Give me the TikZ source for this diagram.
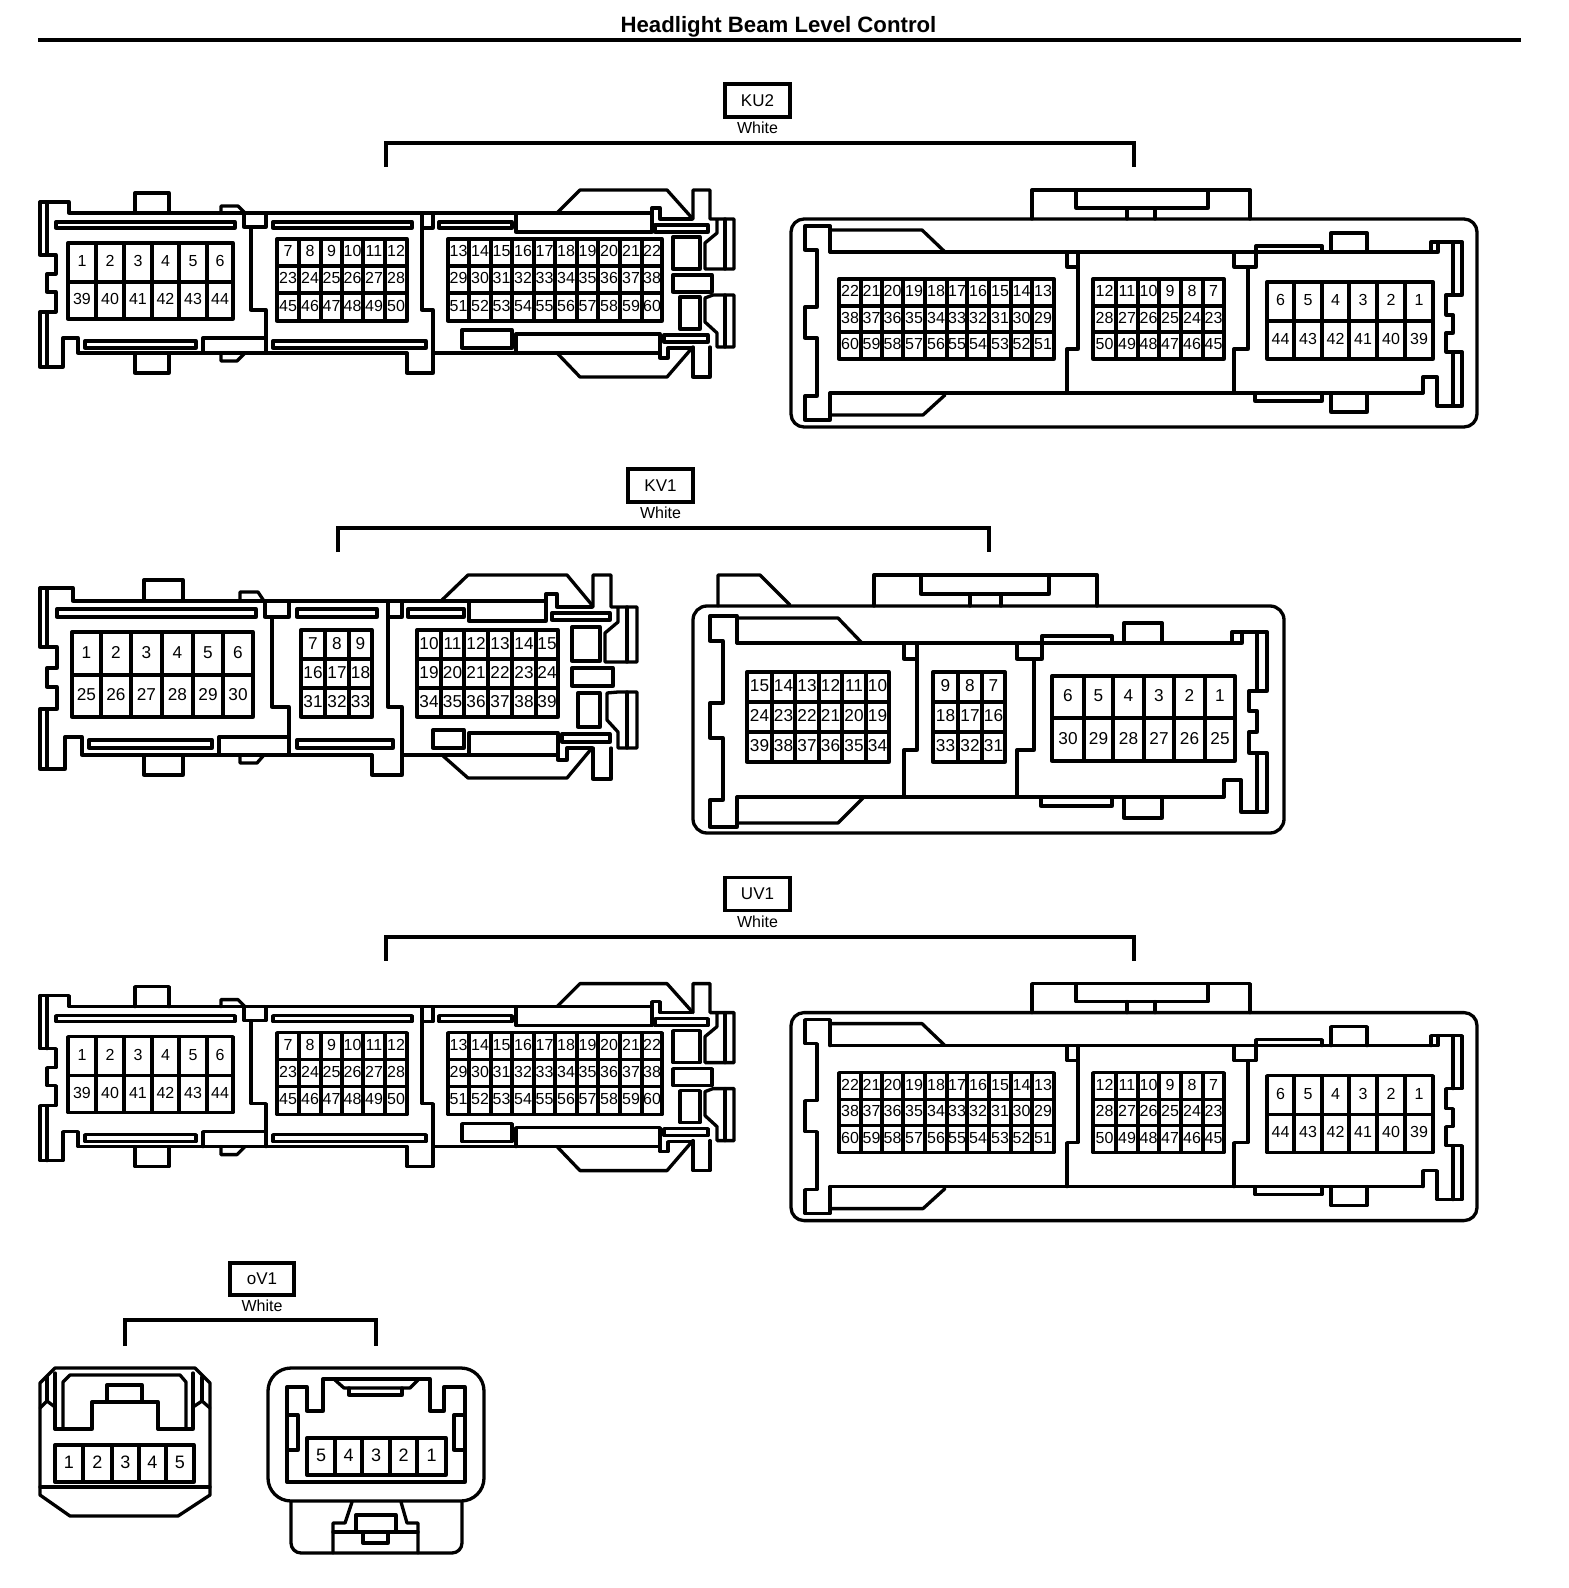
\documentclass[tikz,border=0pt]{standalone}
\usepackage{fontspec}
\setmainfont{Liberation Sans}
\tikzset{
  ln/.style={draw=black,line width=1.65pt,line join=round,line cap=round},
  rule/.style={draw=black,line width=2pt},
  brk/.style={draw=black,line width=2pt,line join=miter},
  tag/.style={draw=black,line width=1.7pt,fill=white,font=\fontsize{8.5}{10}\selectfont,inner sep=0pt},
  colour/.style={font=\fontsize{8}{10}\selectfont,inner sep=0pt},
  pinlabel/.style={inner sep=0pt,yshift=0.6pt,font=\fontsize{\pinsize}{\pinsize}\selectfont},
}
\def\pinsize{8}
% #1 prefix, #2 column edges, #3 row edges, #4 rows of labels
\newcommand{\pingrid}[4]{%
  \foreach \rowlabels [count=\ridx from 0] in {#4} {
    \foreach \lab [count=\cidx from 0] in \rowlabels {
      \pgfmathsetmacro\xa{{#2}[\cidx]}
      \pgfmathsetmacro\xb{{#2}[\cidx+1]}
      \pgfmathsetmacro\ya{{#3}[\ridx]}
      \pgfmathsetmacro\yb{{#3}[\ridx+1]}
      \path[ln] (\xa,\ya) rectangle (\xb,\yb);
      \node[pinlabel] (#1-\lab) at ({(\xa+\xb)/2},{(\ya+\yb)/2}) {\lab};
    }
  }
}
% ---- 60-pin connector, harness side
\newcommand{\ConnAL}[1]{%
  \path[ln] (40,202) -- (69,202) -- (69,213) -- (516,213);
  \path[ln] (40,202) -- (40,255) -- (56,255) -- (56,274) -- (47,274) -- (47,292) -- (56,292) -- (56,312) -- (40,312) -- (40,367) -- (63,367) -- (63,338) -- (78,338) -- (78,353) -- (407,353);
  \path[ln] (47,202) -- (47,255) (47,312) -- (47,367);
  \path[ln] (135,213) -- (135,193) -- (169,193) -- (169,213);
  \path[ln] (135,353) -- (135,373) -- (169,373) -- (169,353);
  \path[ln] (56,222) rectangle (235,228);
  \path[ln] (85,341) rectangle (196,348);
  \path[ln] (221,213) -- (221,206) -- (238,206) -- (245,213);
  \path[ln] (221,353) -- (221,361) -- (237,361) -- (245,353);
  \path[ln] (244,213) rectangle (266,227);
  \path[ln] (251,227) -- (251,310) -- (266,310) -- (266,353);
  \path[ln] (203,353) -- (203,338) -- (266,338);
  \path[ln] (273,222) rectangle (412,228);
  \path[ln] (273,341) rectangle (426,348);
  \path[ln] (422,213) rectangle (433,228);
  \path[ln] (422,228) -- (422,310) -- (433,310) -- (433,373) -- (407,373) -- (407,353);
  \path[ln] (439,222) rectangle (512,228);
  \path[ln] (516,213) -- (516,232) -- (652,232) -- (652,213) -- (516,213);
  \path[ln] (652,213) -- (652,208) -- (660,208) -- (660,219) -- (692,219);
  \path[ln] (557,213) -- (580,190) -- (667,190) -- (692,218);
  \path[ln] (693,219) -- (693,190) -- (710,190) -- (710,219) -- (734,219) -- (734,269) -- (705,269) -- (705,243) -- (717,233) -- (717,219);
  \path[ln] (725,219) -- (725,269);
  \path[ln] (673,275) rectangle (712,292);
  \path[ln] (713,295) -- (734,295) -- (734,347) -- (717,347) -- (717,333) -- (705,322) -- (705,298) -- (713,295);
  \path[ln] (725,295) -- (725,347);
  \path[ln] (710,347) -- (710,377) -- (693,377) -- (693,347);
  \path[ln] (692,348) -- (667,377) -- (580,377) -- (557,353);
  \path[ln] (433,353) -- (660,353);
  \path[ln] (462,330) rectangle (512,348);
  \path[ln] (516,353) -- (516,334) -- (660,334) -- (660,358) -- (668,358) -- (668,348) -- (692,348);
  \path[ln] (655,225) rectangle (708,232);
  \path[ln] (664,335) rectangle (708,342);
  \path[ln] (673,237) rectangle (700,269);
  \path[ln] (680,297) rectangle (700,329);
  \pingrid{#1-a}{68,96,124,152,179,207,233}{243,282,319}{{1,2,3,4,5,6},{39,40,41,42,43,44}}
  \pingrid{#1-b}{277,299,321,342,363,385,407}{239,266,293,321}{{7,8,9,10,11,12},{23,24,25,26,27,28},{45,46,47,48,49,50}}
  \pingrid{#1-c}{448,469,491,512,534,555,577,598,620,642,662}{239,266,293,321}{{13,14,15,16,17,18,19,20,21,22},{29,30,31,32,33,34,35,36,37,38},{51,52,53,54,55,56,57,58,59,60}}
}
% ---- 60-pin connector, component side
\newcommand{\ConnAR}[1]{%
  \path[ln] (791,232) arc[start angle=180,end angle=270,radius=13] -- (1464,219) arc[start angle=270,end angle=360,radius=13] -- (1477,414) arc[start angle=0,end angle=90,radius=13] -- (804,427) arc[start angle=90,end angle=180,radius=13] -- cycle;
  \path[ln] (1032,219) -- (1032,190) -- (1250,190) -- (1250,219);
  \path[ln] (1076,190) -- (1076,208) -- (1208,208) -- (1208,190);
  \path[ln] (1127,208) -- (1127,219) (1155,208) -- (1155,219);
  \path[ln] (830,252) -- (830,226) -- (805,226) -- (805,250) -- (817,250) -- (817,307) -- (805,307) -- (805,338) -- (817,338) -- (817,396) -- (805,396) -- (805,420) -- (830,420) -- (830,393);
  \path[ln] (830,230) -- (922,230) -- (945,252);
  \path[ln] (830,415) -- (923,415) -- (945,395);
  \path[ln] (830,252) -- (1431,252);
  \path[ln] (830,393) -- (1423,393);
  \path[ln] (1067,252) -- (1067,267) -- (1078,267) -- (1078,252);
  \path[ln] (1078,267) -- (1078,349) -- (1067,349) -- (1067,393);
  \path[ln] (1234,252) -- (1234,267) -- (1256,267) -- (1256,252);
  \path[ln] (1248,267) -- (1248,349) -- (1234,349) -- (1234,393);
  \path[ln] (1256,252) -- (1256,246) -- (1322,246) -- (1322,252);
  \path[ln] (1331,252) -- (1331,233) -- (1367,233) -- (1367,252);
  \path[ln] (1431,252) -- (1431,242) -- (1462,242) -- (1462,295) -- (1446,295) -- (1446,315) -- (1453,315) -- (1453,333) -- (1446,333) -- (1446,352) -- (1462,352) -- (1462,406) -- (1437,406) -- (1437,377) -- (1423,377) -- (1423,393);
  \path[ln] (1438,242) -- (1438,252) -- (1431,252);
  \path[ln] (1453,242) -- (1453,295) (1453,352) -- (1453,406);
  \path[ln] (1255,393) -- (1255,401) -- (1322,401) -- (1322,393);
  \path[ln] (1331,393) -- (1331,412) -- (1367,412) -- (1367,393);
  \pingrid{#1-d}{839,861,882,903,925,947,967,989,1011,1032,1054}{279,306,332,359}{{22,21,20,19,18,17,16,15,14,13},{38,37,36,35,34,33,32,31,30,29},{60,59,58,57,56,55,54,53,52,51}}
  \pingrid{#1-e}{1093,1116,1138,1159,1181,1203,1224}{279,306,332,359}{{12,11,10,9,8,7},{28,27,26,25,24,23},{50,49,48,47,46,45}}
  \pingrid{#1-f}{1267,1294,1322,1349,1377,1405,1433}{282,321,359}{{6,5,4,3,2,1},{44,43,42,41,40,39}}
}
\begin{document}
\begin{tikzpicture}[x=0.5pt,y=-0.5pt]
\useasboundingbox (0,0) rectangle (1568,1588);
\fill[white] (0,0) rectangle (1568,1588);
% title
\node[inner sep=0pt,font=\fontsize{11.1}{13}\selectfont\bfseries] (title) at (778.5,27) {Headlight Beam Level Control};
\coordinate (ruleL) at (38,40); \coordinate (ruleR) at (1521,40);
\path[rule] (ruleL) -- (ruleR);
% KU2
\node[tag,minimum width=32.5pt,minimum height=16.5pt] (ku2) at (757.5,100.5) {KU2};
\node[colour] (ku2c) at (757.5,128) {White};
\coordinate (ku2L) at (386,167); \coordinate (ku2R) at (1134,167);
\path[brk] (ku2L) |- (1134,143) -- (ku2R);
\def\pinsize{8}
\ConnAL{ku}
\ConnAR{ku}
% KV1
\node[tag,minimum width=32.5pt,minimum height=16.5pt] (kv1) at (660.5,485.5) {KV1};
\node[colour] (kv1c) at (660.5,513) {White};
\coordinate (kv1L) at (338,552); \coordinate (kv1R) at (989,552);
\path[brk] (kv1L) |- (989,528) -- (kv1R);
\def\pinsize{8.6}
% left
\path[ln] (40,588) -- (73,588) -- (73,601) -- (469,601);
\path[ln] (40,588) -- (40,647) -- (57,647) -- (57,668) -- (47,668) -- (47,687) -- (57,687) -- (57,709) -- (40,709) -- (40,769) -- (65,769) -- (65,737) -- (82,737) -- (82,755) -- (372,755);
\path[ln] (47,588) -- (47,647) (47,709) -- (47,769);
\path[ln] (144,601) -- (144,580) -- (183,580) -- (183,601);
\path[ln] (144,755) -- (144,775) -- (183,775) -- (183,755);
\path[ln] (240,601) -- (240,592) -- (258,592) -- (264,601);
\path[ln] (240,755) -- (240,763) -- (257,763) -- (264,755);
\path[ln] (57,609) rectangle (256,617);
\path[ln] (89,740) rectangle (212,748);
\path[ln] (265,601) rectangle (289,617);
\path[ln] (272,617) -- (272,707) -- (289,707) -- (289,755);
\path[ln] (219,755) -- (219,737) -- (289,737);
\path[ln] (297,609) rectangle (377,617);
\path[ln] (297,740) rectangle (393,748);
\path[ln] (388,601) rectangle (402,617);
\path[ln] (388,617) -- (388,707) -- (402,707) -- (402,775) -- (372,775) -- (372,755);
\path[ln] (408,609) rectangle (464,617);
\path[ln] (469,601) -- (469,621) -- (546,621) -- (546,601) -- (469,601);
\path[ln] (546,601) -- (546,594) -- (557,594) -- (557,607) -- (592,607);
\path[ln] (442,600) -- (468,575) -- (567,575) -- (592,605);
\path[ln] (593,607) -- (593,575) -- (611,575) -- (611,607) -- (637,607) -- (637,662) -- (605,662) -- (605,633) -- (618,622) -- (618,607);
\path[ln] (627,607) -- (627,662);
\path[ln] (572,668) rectangle (613,686);
\path[ln] (618,692) -- (637,692) -- (637,748) -- (618,748) -- (618,732) -- (607,720) -- (607,693) -- (618,692);
\path[ln] (627,692) -- (627,748);
\path[ln] (611,748) -- (611,779) -- (593,779) -- (593,748);
\path[ln] (592,748) -- (567,778) -- (468,778) -- (442,755);
\path[ln] (402,755) -- (558,755);
\path[ln] (433,730) rectangle (464,748);
\path[ln] (469,755) -- (469,733) -- (558,733) -- (558,760) -- (567,760) -- (567,748) -- (592,748);
\path[ln] (552,613) rectangle (610,620);
\path[ln] (562,734) rectangle (610,742);
\path[ln] (572,627) rectangle (600,661);
\path[ln] (578,693) rectangle (600,727);
\pingrid{kvl-a}{72,101,131,162,193,223,253}{632,675,717}{{1,2,3,4,5,6},{25,26,27,28,29,30}}
\pingrid{kvl-b}{301,325,349,372}{630,659,688,717}{{7,8,9},{16,17,18},{31,32,33}}
\pingrid{kvl-c}{417,441,464,488,512,536,558}{630,659,688,717}{{10,11,12,13,14,15},{19,20,21,22,23,24},{34,35,36,37,38,39}}
% right
\path[ln] (693,620) arc[start angle=180,end angle=270,radius=14] -- (1270,606) arc[start angle=270,end angle=360,radius=14] -- (1284,819) arc[start angle=0,end angle=90,radius=14] -- (707,833) arc[start angle=90,end angle=180,radius=14] -- cycle;
\path[ln] (718,606) -- (718,575) -- (760,575) -- (790,605);
\path[ln] (874,606) -- (874,575) -- (1097,575) -- (1097,606);
\path[ln] (921,575) -- (921,594) -- (1049,594) -- (1049,575);
\path[ln] (970,594) -- (970,606) (1001,594) -- (1001,606);
\path[ln] (737,643) -- (737,616) -- (710,616) -- (710,641) -- (723,641) -- (723,703) -- (710,703) -- (710,738) -- (723,738) -- (723,800) -- (710,800) -- (710,827) -- (737,827) -- (737,797);
\path[ln] (737,618) -- (838,618) -- (862,643);
\path[ln] (737,823) -- (838,823) -- (863,798);
\path[ln] (737,643) -- (1232,643);
\path[ln] (737,797) -- (1224,797);
\path[ln] (904,643) -- (904,659) -- (917,659) -- (917,643);
\path[ln] (917,659) -- (917,750) -- (904,750) -- (904,797);
\path[ln] (1017,643) -- (1017,659) -- (1042,659) -- (1042,643);
\path[ln] (1034,659) -- (1034,750) -- (1017,750) -- (1017,797);
\path[ln] (1042,643) -- (1042,636) -- (1112,636) -- (1112,643);
\path[ln] (1124,643) -- (1124,623) -- (1162,623) -- (1162,643);
\path[ln] (1232,643) -- (1232,632) -- (1267,632) -- (1267,691) -- (1249,691) -- (1249,711) -- (1257,711) -- (1257,732) -- (1249,732) -- (1249,753) -- (1267,753) -- (1267,812) -- (1241,812) -- (1241,780) -- (1224,780) -- (1224,797);
\path[ln] (1242,632) -- (1242,643) -- (1232,643);
\path[ln] (1257,632) -- (1257,691) (1257,753) -- (1257,812);
\path[ln] (1041,797) -- (1041,806) -- (1112,806) -- (1112,797);
\path[ln] (1124,797) -- (1124,818) -- (1162,818) -- (1162,797);
\pingrid{kvr-d}{747,772,795,819,842,866,889}{672,702,732,762}{{15,14,13,12,11,10},{24,23,22,21,20,19},{39,38,37,36,35,34}}
\pingrid{kvr-e}{933,958,982,1005}{672,702,732,762}{{9,8,7},{18,17,16},{33,32,31}}
\pingrid{kvr-f}{1052,1084,1113,1144,1174,1205,1235}{676,718,761}{{6,5,4,3,2,1},{30,29,28,27,26,25}}
% UV1
\begin{scope}[shift={(0,793.6)}]
\node[tag,minimum width=32.5pt,minimum height=16.5pt] (uv1) at (757.5,100.5) {UV1};
\node[colour] (uv1c) at (757.5,128) {White};
\coordinate (uv1L) at (386,167); \coordinate (uv1R) at (1134,167);
\path[brk] (uv1L) |- (1134,143) -- (uv1R);
\def\pinsize{8}
\ConnAL{uv}
\ConnAR{uv}
\end{scope}
% oV1
\node[tag,minimum width=32pt,minimum height=16pt] (ov1) at (262,1279) {oV1};
\node[colour] (ov1c) at (262,1306) {White};
\coordinate (ov1L) at (125,1346); \coordinate (ov1R) at (376,1346);
\path[brk] (ov1L) |- (376,1320) -- (ov1R);
\def\pinsize{9}
% left plug
\path[ln] (55,1368) -- (195,1368) -- (210,1383) -- (210,1495) -- (178,1516) -- (70,1516) -- (40,1495) -- (40,1383) -- cycle;
\path[ln] (40,1487) -- (210,1487);
\path[ln] (55,1373) -- (55,1429) -- (92,1429) -- (92,1402) -- (158,1402) -- (158,1429) -- (193,1429) -- (193,1373);
\path[ln] (63,1429) -- (63,1382) -- (70,1375) -- (180,1375) -- (186,1382) -- (186,1429);
\path[ln] (107,1402) -- (107,1385) -- (142,1385) -- (142,1402);
\path[ln] (40,1408) -- (47,1401) -- (55,1407) (210,1408) -- (202,1401) -- (193,1407);
\path[ln] (47,1377) -- (47,1401) (202,1377) -- (202,1401);
\pingrid{ovl}{55,83,112,139,166,194}{1445,1482}{{1,2,3,4,5}}
% right socket
\path[ln] (268,1391) arc[start angle=180,end angle=270,radius=23] -- (461,1368) arc[start angle=270,end angle=360,radius=23] -- (484,1478) arc[start angle=0,end angle=90,radius=23] -- (291,1501) arc[start angle=90,end angle=180,radius=23] -- cycle;
\path[ln] (287,1387) -- (307,1387) -- (307,1411) -- (323,1411) -- (323,1379) -- (430,1379) -- (430,1411) -- (444,1411) -- (444,1387) -- (465,1387) -- (465,1482) -- (287,1482) -- cycle;
\path[ln] (335,1380) -- (344,1388) -- (410,1388) -- (418,1380);
\path[ln] (349,1388) -- (349,1395) -- (402,1395) -- (402,1388);
\path[ln] (287,1415) -- (298,1415) -- (298,1450) -- (287,1450);
\path[ln] (465,1415) -- (454,1415) -- (454,1450) -- (465,1450);
\pingrid{ovr}{307,335,362,390,417,446}{1438,1475}{{5,4,3,2,1}}
\path[ln] (291,1502) -- (291,1543) arc[start angle=180,end angle=90,radius=10] -- (452,1553) arc[start angle=90,end angle=0,radius=10] -- (462,1502);
\path[ln] (352,1502) -- (345,1523) -- (333,1523) -- (333,1553);
\path[ln] (401,1502) -- (407,1523) -- (418,1523) -- (418,1553);
\path[ln] (333,1532) -- (418,1532);
\path[ln] (356,1532) -- (356,1515) -- (396,1515) -- (396,1532);
\path[ln] (363,1532) -- (363,1543) -- (388,1543) -- (388,1532);
\end{tikzpicture}
\end{document}
